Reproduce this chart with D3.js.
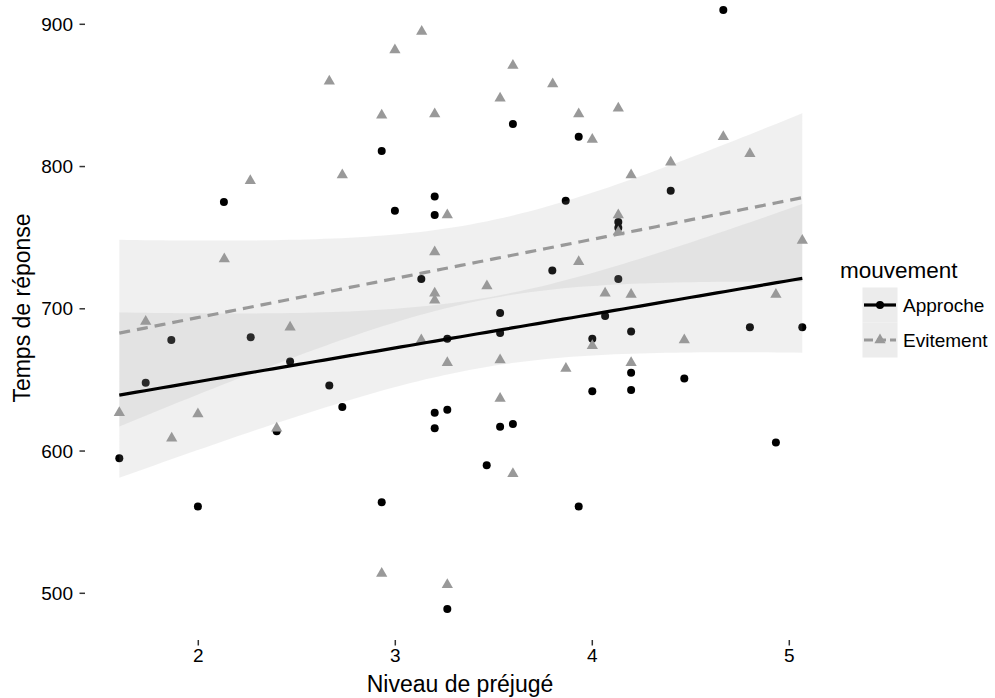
<!DOCTYPE html>
<html><head><meta charset="utf-8">
<script src="https://cdn.jsdelivr.net/npm/d3@7"></script>
<style>body{margin:0;background:#fff}svg{display:block}text{font-family:"Liberation Sans",Arial,Helvetica,sans-serif}</style>
</head><body>
<script>
const approcheX = [1.599,1.733,1.863,1.998,2.130,2.266,2.398,2.466,2.665,2.731,2.931,2.931,2.998,3.132,3.200,3.200,3.200,3.200,3.264,3.264,3.264,3.464,3.532,3.532,3.532,3.597,3.597,3.797,3.865,3.931,3.931,4.000,4.000,4.065,4.132,4.132,4.132,4.197,4.197,4.197,4.398,4.467,4.665,4.800,4.932,5.066];
const approcheY = [595,648,678,561,775,680,614,663,646,631,811,564,769,721,779,766,627,616,679,629,489,590,697,683,617,830,619,727,776,821,561,679,642,695,761,757,721,684,655,643,783,651,910,687,606,687];
const evitementX = [1.599,1.733,1.865,1.998,2.132,2.264,2.398,2.466,2.665,2.731,2.931,2.931,2.998,3.132,3.134,3.200,3.200,3.200,3.200,3.264,3.264,3.264,3.465,3.532,3.532,3.532,3.597,3.597,3.799,3.866,3.931,3.931,4.000,4.000,4.065,4.132,4.132,4.132,4.197,4.197,4.197,4.398,4.467,4.665,4.800,4.932,5.066];
const evitementY = [627,691,609,626,735,790,616,687,860,794,836,514,882,678,895,837,740,711,706,766,662,506,716,848,664,637,871,584,858,658,837,733,819,674,711,841,766,754,794,710,662,803,678,821,809,710,748];
const xTicks = [2,3,4,5];
const yTicks = [500,600,700,800,900];
const groups = ["Approche","Evitement"];
const xTitle = "Niveau de préjugé", yTitle = "Temps de réponse", legendTitle = "mouvement";

const W=995,H=698;
const svg=d3.select("body").append("svg").attr("width",W).attr("height",H);
const x=d3.scaleLinear().domain([2,5]).range([198.3,789.3]);
const y=d3.scaleLinear().domain([500,900]).range([593.3,24.3]);

function tq(df){const z=1.959964;return z+(z**3+z)/(4*df)+(5*z**5+16*z**3+3*z)/(96*df*df)+(3*z**7+19*z**5+17*z**3-15*z)/(384*df**3);}
function fit(xs,ys){
  const n=xs.length,mx=d3.mean(xs),my=d3.mean(ys);
  let sxx=0,sxy=0;xs.forEach((v,i)=>{sxx+=(v-mx)**2;sxy+=(v-mx)*(ys[i]-my);});
  const b=sxy/sxx,a=my-b*mx;
  let sse=0;xs.forEach((v,i)=>{sse+=(ys[i]-a-b*v)**2;});
  const s=Math.sqrt(sse/(n-2)),t=tq(n-2);
  const lo=d3.min(xs),hi=d3.max(xs);
  return d3.range(0,81).map(k=>{const xv=lo+(hi-lo)*k/80;const yh=a+b*xv;const se=s*Math.sqrt(1/n+(xv-mx)**2/sxx);return {x:xv,y:yh,l:yh-t*se,u:yh+t*se};});
}
const fa=fit(approcheX,approcheY), fe=fit(evitementX,evitementY);

// points
const gp=svg.append("g");
gp.selectAll("circle").data(approcheX.map((v,i)=>[v,approcheY[i]])).join("circle")
  .attr("cx",d=>x(d[0])).attr("cy",d=>y(d[1])).attr("r",4).attr("fill","#000");
const tri=d3.symbol().type(d3.symbolTriangle).size(55);
gp.selectAll("path").data(evitementX.map((v,i)=>[v,evitementY[i]])).join("path")
  .attr("d",tri).attr("transform",d=>`translate(${x(d[0])},${y(d[1])})`).attr("fill","#999");

// bands
const area=d3.area().x(d=>x(d.x)).y0(d=>y(d.l)).y1(d=>y(d.u));
[fa,fe].forEach(f=>svg.append("path").attr("d",area(f)).attr("fill","#999").attr("fill-opacity",0.15));
const line=d3.line().x(d=>x(d.x)).y(d=>y(d.y));
svg.append("path").attr("d",line(fa)).attr("fill","none").attr("stroke","#000").attr("stroke-width",3.2);
svg.append("path").attr("d",line(fe)).attr("fill","none").attr("stroke","#999").attr("stroke-width",3.2).attr("stroke-dasharray","11,7");

// axes
const ax=svg.append("g");
xTicks.forEach(t=>{
  ax.append("line").attr("x1",x(t)).attr("x2",x(t)).attr("y1",640).attr("y2",645.5).attr("stroke","#333").attr("stroke-width",1.5);
  ax.append("text").attr("x",x(t)).attr("y",662).attr("text-anchor","middle").attr("font-size",19).attr("fill","#000").text(t);
});
yTicks.forEach(t=>{
  ax.append("line").attr("x1",79.5).attr("x2",85).attr("y1",y(t)).attr("y2",y(t)).attr("stroke","#333").attr("stroke-width",1.5);
  ax.append("text").attr("x",73).attr("y",y(t)).attr("dy","0.35em").attr("text-anchor","end").attr("font-size",19).attr("fill","#000").text(t);
});
svg.append("text").attr("x",460).attr("y",692).attr("text-anchor","middle").attr("font-size",23).text(xTitle);
svg.append("text").attr("transform","translate(30,308) rotate(-90)").attr("text-anchor","middle").attr("font-size",23).text(yTitle);

// legend
const lg=svg.append("g");
lg.append("text").attr("x",840).attr("y",278).attr("font-size",22.5).text(legendTitle);
groups.forEach((g,i)=>{
  const cy=305+i*35;
  lg.append("rect").attr("x",862.5).attr("y",cy-17.5).attr("width",35).attr("height",35).attr("fill","#ececec");
  if(i===0){
    lg.append("line").attr("x1",864).attr("x2",896).attr("y1",cy).attr("y2",cy).attr("stroke","#000").attr("stroke-width",3.2);
    lg.append("circle").attr("cx",880).attr("cy",cy).attr("r",4).attr("fill","#000");
  } else {
    lg.append("line").attr("x1",864).attr("x2",896).attr("y1",cy).attr("y2",cy).attr("stroke","#999").attr("stroke-width",3.2).attr("stroke-dasharray","9,4");
    lg.append("path").attr("d",tri).attr("transform",`translate(880,${cy})`).attr("fill","#999");
  }
  lg.append("text").attr("x",903).attr("y",cy).attr("dy","0.35em").attr("font-size",19).text(g);
});
</script>
</body></html>
